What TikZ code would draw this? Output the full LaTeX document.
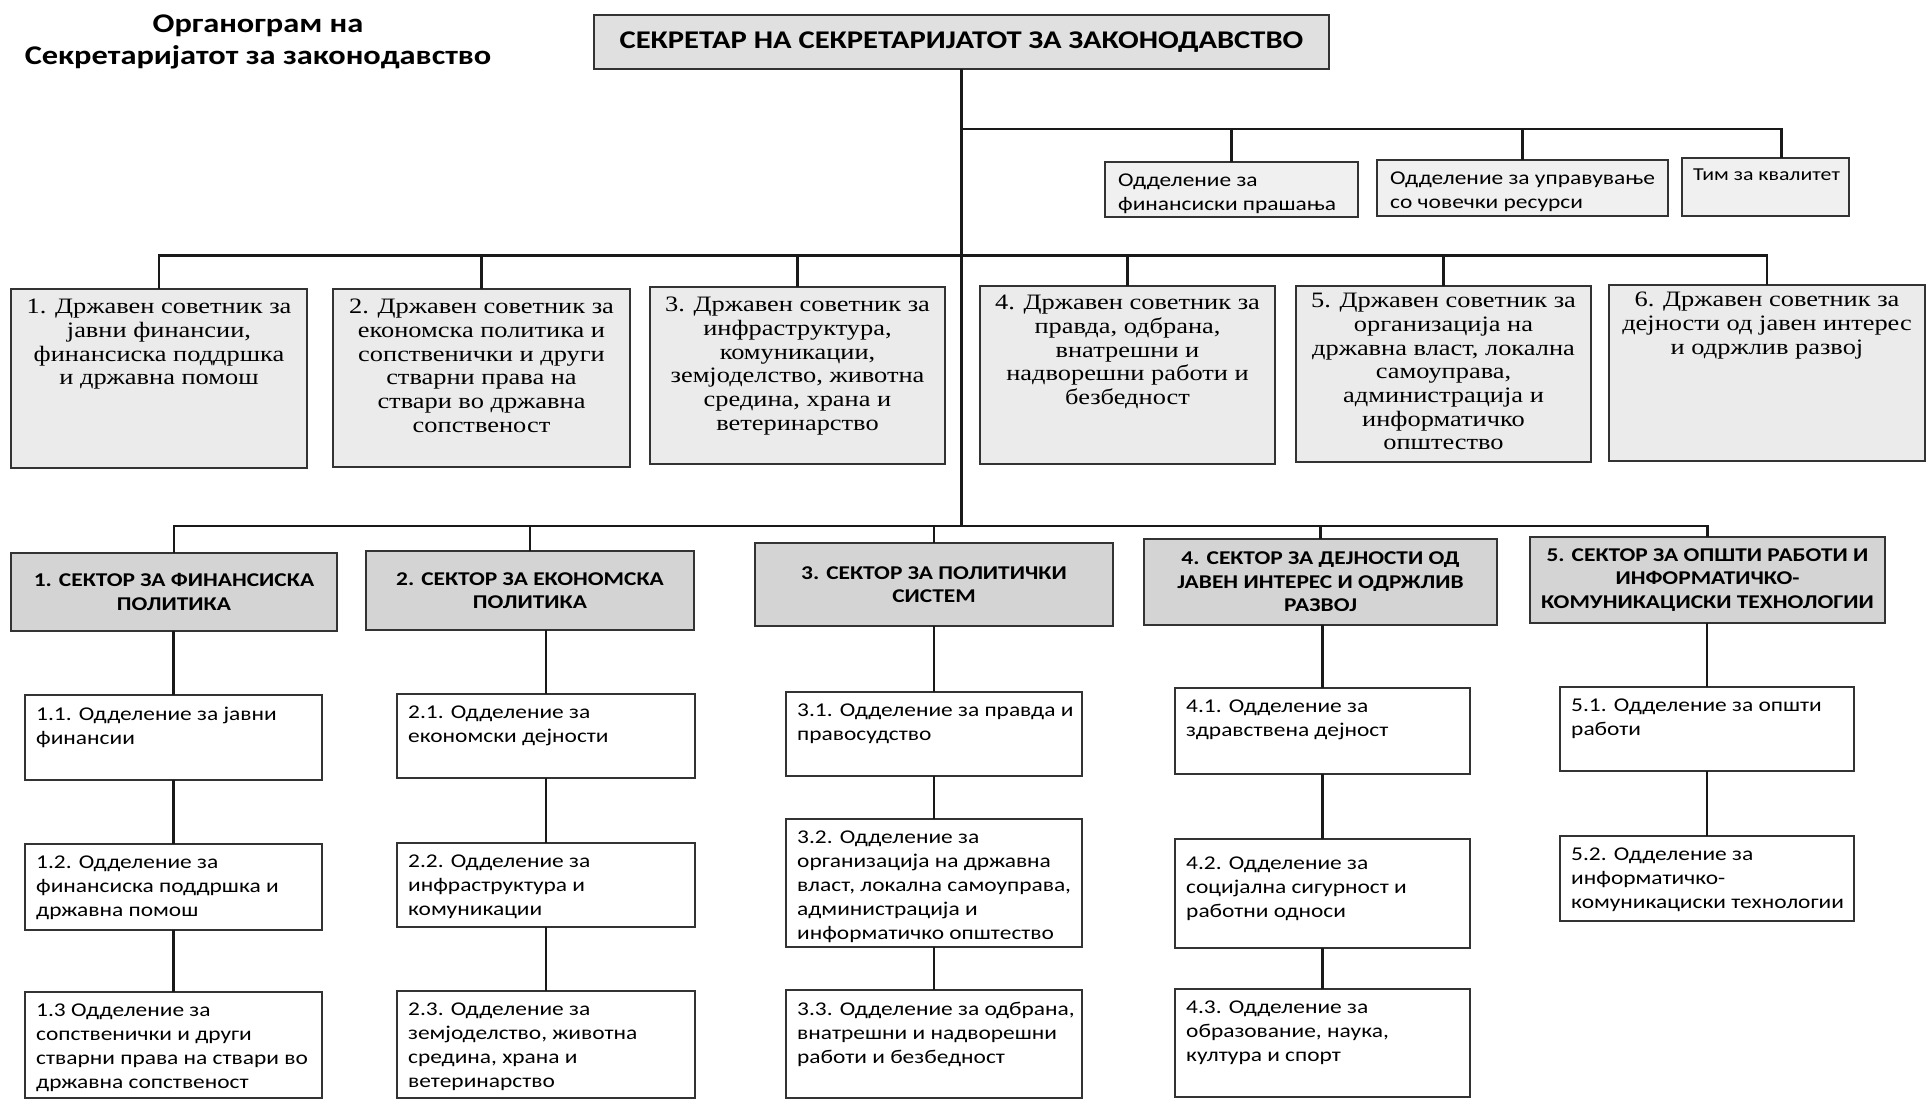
\documentclass[tikz,border=0pt]{standalone}
\usepackage{fontspec}
\setmainfont{Carlito}[FakeStretch=1.2]
\newfontfamily\serifcyr{Liberation Serif}[FakeStretch=1.2]
\usetikzlibrary{calc}
\newcommand{\mkbox}[7]{\node[#1, minimum width={#5-#3}, minimum height={#6-#4}] (#2) at ({(#3+#5)/2},{(#4+#6)/2}) {#7};}
\begin{document}
\begin{tikzpicture}[x=1pt,y=-1pt,
  conn/.style={line width=2.2pt, draw=black!90},
  basebox/.style={draw=black!80, line width=2.2pt, inner sep=0pt, outer sep=0pt, rectangle},
  topbox/.style={basebox, fill=black!12, font=\fontsize{25.5}{29}\selectfont\bfseries},
  supbox/.style={basebox, fill=black!6},
  advbox/.style={basebox, fill=black!8},
  secbox/.style={basebox, fill=black!17, align=center, font=\fontsize{19.5}{23.5}\selectfont\bfseries},
  depbox/.style={basebox, fill=white},
  dtext/.style={anchor=north west, inner sep=0pt, align=left, font=\fontsize{19.5}{23.8}\selectfont},
  atext/.style={anchor=north, inner sep=0pt, align=center, font=\serifcyr\fontsize{22}{23.7}\selectfont},
  ttext/.style={inner sep=0pt, align=center, font=\fontsize{27}{32}\selectfont\bfseries},
]
\useasboundingbox (0,0) rectangle (1926,1100);
\fill[white] (0,0) rectangle (1926,1100);

% title
\node[ttext, anchor=north] (title) at (258,15) {Органограм на\\Секретаријатот за законодавство};

% top box
\mkbox{topbox}{top}{594}{15}{1329}{69}{СЕКРЕТАР НА СЕКРЕТАРИЈАТОТ ЗА ЗАКОНОДАВСТВО}

% support units
\mkbox{supbox}{s1}{1105}{162}{1358}{217}{}
\mkbox{supbox}{s2}{1377}{160}{1668}{216}{}
\mkbox{supbox}{s3}{1682}{158}{1849}{216}{}
\node[dtext] (s1t) at ($(s1.north west)+(13,12)$) {Одделение за\\финансиски прашања};
\node[dtext] (s2t) at ($(s2.north west)+(13,12)$) {Одделение за управување\\со човечки ресурси};
\node[dtext, font=\fontsize{18.2}{22}\selectfont] (s3t) at ($(s3.north west)+(11,11)$) {Тим за квалитет};

% state advisors
\mkbox{advbox}{a1}{11}{289}{307}{468}{}
\mkbox{advbox}{a2}{333}{289}{630}{467}{}
\mkbox{advbox}{a3}{650}{287}{945}{464}{}
\mkbox{advbox}{a4}{980}{286}{1275}{464}{}
\mkbox{advbox}{a5}{1296}{286}{1591}{462}{}
\mkbox{advbox}{a6}{1609}{285}{1925}{461}{}
\node[atext] (a1t) at ($(a1.north)+(0,10)$) {1. Државен советник за\\јавни финансии,\\финансиска поддршка\\и државна помош};
\node[atext] (a2t) at ($(a2.north)+(0,10)$) {2. Државен советник за\\економска политика и\\сопственички и други\\стварни права на\\ствари во државна\\сопственост};
\node[atext] (a3t) at ($(a3.north)+(0,10)$) {3. Државен советник за\\инфраструктура,\\комуникации,\\земјоделство, животна\\средина, храна и\\ветеринарство};
\node[atext] (a4t) at ($(a4.north)+(0,9)$) {4. Државен советник за\\правда, одбрана,\\внатрешни и\\надворешни работи и\\безбедност};
\node[atext] (a5t) at ($(a5.north)+(0,7)$) {5. Државен советник за\\организација на\\државна власт, локална\\самоуправа,\\администрација и\\информатичко\\општество};
\node[atext] (a6t) at ($(a6.north)+(0,7)$) {6. Државен советник за\\дејности од јавен интерес\\и одржлив развој};

% sectors
\mkbox{secbox}{b1}{11}{553}{337}{631}{1. СЕКТОР ЗА ФИНАНСИСКА\\ПОЛИТИКА}
\mkbox{secbox}{b2}{366}{551}{694}{630}{2. СЕКТОР ЗА ЕКОНОМСКА\\ПОЛИТИКА}
\mkbox{secbox}{b3}{755}{543}{1113}{626}{3. СЕКТОР ЗА ПОЛИТИЧКИ\\СИСТЕМ}
\mkbox{secbox}{b4}{1144}{539}{1497}{625}{4. СЕКТОР ЗА ДЕЈНОСТИ ОД\\ЈАВЕН ИНТЕРЕС И ОДРЖЛИВ\\РАЗВОЈ}
\mkbox{secbox}{b5}{1530}{537}{1885}{623}{5. СЕКТОР ЗА ОПШТИ РАБОТИ И\\ИНФОРМАТИЧКО-\\КОМУНИКАЦИСКИ ТЕХНОЛОГИИ}

% departments
\mkbox{depbox}{d11}{25}{695}{322}{780}{}
\mkbox{depbox}{d12}{25}{844}{322}{930}{}
\mkbox{depbox}{d13}{25}{992}{322}{1098}{}
\mkbox{depbox}{d21}{397}{694}{695}{778}{}
\mkbox{depbox}{d22}{397}{843}{695}{927}{}
\mkbox{depbox}{d23}{397}{991}{695}{1098}{}
\mkbox{depbox}{d31}{786}{692}{1082}{776}{}
\mkbox{depbox}{d32}{786}{819}{1082}{947}{}
\mkbox{depbox}{d33}{786}{990}{1082}{1098}{}
\mkbox{depbox}{d41}{1175}{688}{1470}{774}{}
\mkbox{depbox}{d42}{1175}{839}{1470}{948}{}
\mkbox{depbox}{d43}{1175}{989}{1470}{1097}{}
\mkbox{depbox}{d51}{1560}{687}{1854}{771}{}
\mkbox{depbox}{d52}{1560}{836}{1854}{921}{}

\node[dtext] (d11t) at ($(d11.north west)+(11,12)$) {1.1. Одделение за јавни\\финансии};
\node[dtext] (d12t) at ($(d12.north west)+(11,12)$) {1.2. Одделение за\\финансиска поддршка и\\државна помош};
\node[dtext] (d13t) at ($(d13.north west)+(11,12)$) {1.3 Одделение за\\сопственички и други\\стварни права на ствари во\\државна сопственост};
\node[dtext] (d21t) at ($(d21.north west)+(11,12)$) {2.1. Одделение за\\економски дејности};
\node[dtext] (d22t) at ($(d22.north west)+(11,12)$) {2.2. Одделение за\\инфраструктура и\\комуникации};
\node[dtext] (d23t) at ($(d23.north west)+(11,12)$) {2.3. Одделение за\\земјоделство, животна\\средина, храна и\\ветеринарство};
\node[dtext] (d31t) at ($(d31.north west)+(11,12)$) {3.1. Одделение за правда и\\правосудство};
\node[dtext] (d32t) at ($(d32.north west)+(11,12)$) {3.2. Одделение за\\организација на државна\\власт, локална самоуправа,\\администрација и\\информатичко општество};
\node[dtext] (d33t) at ($(d33.north west)+(11,12)$) {3.3. Одделение за одбрана,\\внатрешни и надворешни\\работи и безбедност};
\node[dtext] (d41t) at ($(d41.north west)+(11,12)$) {4.1. Одделение за\\здравствена дејност};
\node[dtext] (d42t) at ($(d42.north west)+(11,18)$) {4.2. Одделение за\\социјална сигурност и\\работни односи};
\node[dtext] (d43t) at ($(d43.north west)+(11,12)$) {4.3. Одделение за\\образование, наука,\\култура и спорт};
\node[dtext] (d51t) at ($(d51.north west)+(11,12)$) {5.1. Одделение за општи\\работи};
\node[dtext] (d52t) at ($(d52.north west)+(11,12)$) {5.2. Одделение за\\информатичко-\\комуникациски технологии};

% bus junctions
\coordinate (jsup) at (top.south |- 0,129);
\coordinate (jadv) at (top.south |- 0,255.5);
\coordinate (jsec) at (top.south |- 0,526);

% connectors
\draw[conn] (top.south) -- (jsec);
\draw[conn] (jsup) -| (s1.north);
\draw[conn] (jsup) -| (s2.north);
\draw[conn] (jsup) -| ($(s3.north)+(16,0)$);
\foreach \n in {a1,a2,a3,a4,a5,a6} {\draw[conn] (jadv) -| (\n.north);}
\foreach \n in {b1,b2,b3,b4,b5} {\draw[conn] (jsec) -| (\n.north);}
\draw[conn] (b1.south -| d11.north) -- (d11.north);
\draw[conn] (b2.south -| d21.north) -- (d21.north);
\draw[conn] (b3.south -| d31.north) -- (d31.north);
\draw[conn] (b4.south -| d41.north) -- (d41.north);
\draw[conn] (b5.south -| d51.north) -- (d51.north);
\draw[conn] (d11.south) -- (d12.north);
\draw[conn] (d12.south) -- (d13.north);
\draw[conn] (d21.south) -- (d22.north);
\draw[conn] (d22.south) -- (d23.north);
\draw[conn] (d31.south) -- (d32.north);
\draw[conn] (d32.south) -- (d33.north);
\draw[conn] (d41.south) -- (d42.north);
\draw[conn] (d42.south) -- (d43.north);
\draw[conn] (d51.south) -- (d52.north);
\end{tikzpicture}
\end{document}
